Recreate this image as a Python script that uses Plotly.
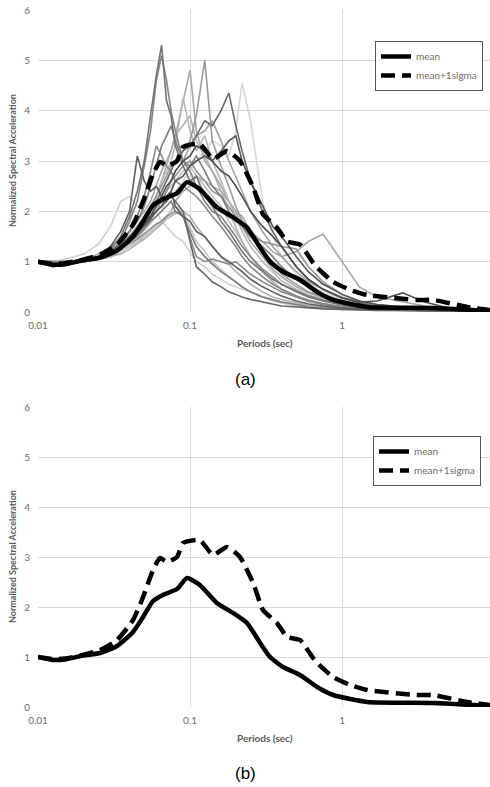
import plotly.graph_objects as go

# Period grid (sec) shared by the individual record spectra
periods = [0.01, 0.0125, 0.015, 0.02, 0.025, 0.03, 0.035, 0.04, 0.045, 0.05,
           0.055, 0.06, 0.065, 0.07, 0.075, 0.08, 0.09, 0.1, 0.11, 0.125,
           0.14, 0.16, 0.18, 0.2, 0.22, 0.25, 0.3, 0.35, 0.4, 0.5,
           0.6, 0.75, 1.0, 1.3, 1.7, 2.5, 3.5, 5.0, 10.0]

rec_A = [1.0,0.93,0.96,1.0,1.1,1.25,1.5,1.9,2.4,3.0,3.9,4.7,5.3,4.2,3.9,3.3,2.9,2.6,2.7,2.3,2.1,1.8,1.6,1.4,1.2,1.0,0.8,0.65,0.55,0.4,0.3,0.22,0.14,0.1,0.08,0.06,0.04,0.03,0.01]
rec_B = [1.0,0.9,0.95,1.0,1.05,1.2,1.4,1.8,2.2,2.9,3.6,4.6,5.1,4.6,4.0,3.6,3.0,2.8,2.5,2.2,2.0,1.9,1.7,1.5,1.3,1.1,0.85,0.7,0.55,0.42,0.32,0.24,0.15,0.1,0.08,0.06,0.04,0.03,0.01]
rec_C = [1.0,1.0,1.0,1.05,1.15,1.3,1.45,1.6,1.8,2.0,2.2,2.5,2.8,3.0,3.2,3.5,4.2,4.8,3.6,3.0,2.8,2.5,2.2,2.0,1.7,1.4,1.1,0.85,0.7,0.5,0.38,0.28,0.18,0.12,0.09,0.06,0.04,0.03,0.01]
rec_D = [1.0,0.98,1.0,1.03,1.1,1.2,1.35,1.5,1.7,1.9,2.1,2.3,2.5,2.7,2.9,3.0,3.2,3.4,3.9,5.0,3.4,2.9,2.5,2.1,1.8,1.5,1.2,0.95,0.75,0.55,0.4,0.3,0.2,0.13,0.1,0.07,0.05,0.03,0.01]
rec_E = [1.0,1.0,1.0,1.02,1.1,1.2,1.3,1.45,1.6,1.8,2.0,2.3,2.6,2.8,3.0,3.3,4.25,3.6,3.2,3.5,3.0,2.6,2.2,1.9,1.6,1.3,1.0,0.8,0.62,0.45,0.34,0.25,0.16,0.11,0.08,0.06,0.04,0.03,0.01]
rec_F = [1.0,0.95,0.98,1.0,1.08,1.2,1.35,1.5,1.65,1.8,2.0,2.2,2.4,2.6,2.8,3.0,3.2,3.3,3.5,3.8,3.7,4.0,4.35,3.7,3.2,2.6,2.0,1.6,1.3,0.9,0.65,0.45,0.28,0.18,0.12,0.08,0.05,0.03,0.01]
rec_G = [1.0,1.0,1.0,1.0,1.05,1.1,1.2,1.3,1.45,1.6,1.75,1.9,2.0,2.2,2.3,2.4,2.6,2.8,3.0,3.2,3.4,3.3,3.1,3.6,4.55,3.8,2.2,1.5,1.1,0.75,0.55,0.4,0.25,0.16,0.11,0.07,0.05,0.03,0.01]
rec_H = [1.0,0.92,0.95,1.0,1.1,1.3,1.6,2.0,3.1,2.6,2.4,2.5,2.3,2.2,2.4,2.1,1.9,1.8,1.6,1.5,1.3,1.1,1.0,0.9,0.8,0.65,0.5,0.4,0.32,0.22,0.16,0.12,0.08,0.06,0.05,0.04,0.03,0.02,0.01]
rec_I = [1.0,1.0,1.05,1.15,1.35,1.7,2.2,2.3,2.1,2.0,1.9,2.0,1.8,1.7,1.6,1.5,1.4,1.2,1.0,0.9,0.75,0.65,0.55,0.5,0.45,0.38,0.3,0.25,0.2,0.15,0.12,0.09,0.06,0.05,0.04,0.03,0.02,0.02,0.01]
rec_J = [1.0,1.0,1.0,1.0,1.05,1.1,1.2,1.3,1.4,1.5,1.6,1.7,1.8,1.9,2.0,2.2,2.4,2.5,2.7,2.6,2.5,2.4,2.2,2.0,1.9,1.6,1.4,1.2,1.1,1.2,1.4,1.55,1.0,0.5,0.3,0.2,0.12,0.07,0.02]
rec_K = [1.0,0.95,0.97,1.0,1.08,1.2,1.3,1.45,1.6,1.75,1.9,2.1,2.3,2.5,2.6,2.8,3.0,3.1,3.3,3.2,3.0,2.8,2.7,2.5,2.3,2.0,1.7,1.5,1.3,0.9,0.65,0.45,0.28,0.2,0.22,0.38,0.2,0.08,0.02]
rec_L = [1.0,0.95,0.98,1.0,1.05,1.15,1.25,1.4,1.5,1.65,1.8,1.9,2.0,2.1,2.2,2.0,1.9,1.6,1.3,1.1,0.95,0.8,0.7,0.6,0.5,0.4,0.3,0.25,0.2,0.15,0.1,0.08,0.06,0.05,0.04,0.03,0.02,0.02,0.01]
rec_M = [1.0,0.97,1.0,1.02,1.08,1.15,1.25,1.35,1.45,1.55,1.65,1.75,1.8,1.9,1.95,2.0,1.9,1.5,1.1,1.0,1.05,1.0,0.95,1.0,0.9,0.75,0.6,0.5,0.4,0.3,0.22,0.15,0.1,0.07,0.05,0.04,0.03,0.02,0.01]
rec_N = [1.0,0.9,0.93,1.0,1.05,1.15,1.3,1.45,1.6,1.75,1.9,2.0,2.1,2.2,2.3,2.2,2.0,1.4,0.9,0.75,0.6,0.5,0.4,0.35,0.3,0.25,0.2,0.15,0.12,0.1,0.08,0.06,0.05,0.04,0.03,0.03,0.02,0.02,0.01]
rec_O = [1.0,1.0,1.0,1.02,1.1,1.2,1.3,1.45,1.6,1.7,1.9,2.0,2.2,2.4,2.5,2.6,2.8,2.9,2.7,2.5,2.3,2.1,1.8,1.6,1.4,1.1,0.8,0.6,0.45,0.3,0.2,0.15,0.1,0.07,0.05,0.04,0.03,0.02,0.01]
rec_P = [1.0,0.95,0.97,1.0,1.1,1.2,1.4,1.6,1.8,2.1,2.5,2.9,3.3,3.5,3.7,3.4,3.0,2.9,3.1,2.8,2.5,2.3,2.0,1.8,1.7,1.5,1.3,1.1,0.9,0.65,0.5,0.35,0.22,0.15,0.1,0.07,0.05,0.03,0.01]
rec_Q = [1.0,1.0,1.0,1.03,1.1,1.2,1.3,1.4,1.55,1.7,1.85,2.0,2.2,2.4,2.6,2.8,3.0,3.3,3.5,3.6,3.8,3.4,3.0,2.7,2.4,2.0,1.6,1.3,1.1,0.8,0.6,0.45,0.3,0.2,0.14,0.09,0.06,0.04,0.01]
rec_R = [1.0,0.93,0.96,1.0,1.06,1.15,1.3,1.4,1.55,1.7,1.85,2.0,2.1,2.3,2.4,2.6,2.7,2.9,3.0,3.1,3.0,3.2,3.4,3.5,3.0,2.6,2.1,1.7,1.5,1.1,0.8,0.55,0.35,0.22,0.15,0.1,0.06,0.04,0.01]
rec_S = [1.0,1.0,1.0,1.02,1.05,1.1,1.2,1.3,1.4,1.5,1.6,1.7,1.8,1.9,2.0,2.1,2.0,1.7,1.4,1.2,1.0,0.85,0.7,0.6,0.5,0.4,0.3,0.22,0.18,0.12,0.09,0.07,0.05,0.04,0.03,0.03,0.02,0.02,0.01]
rec_T = [1.0,0.97,0.99,1.0,1.08,1.18,1.3,1.45,1.6,1.75,1.9,2.1,2.2,2.4,2.6,2.7,2.9,3.0,2.8,2.6,2.4,2.3,2.1,1.9,1.7,1.5,1.4,1.35,1.3,1.25,0.9,0.6,0.35,0.22,0.15,0.1,0.07,0.04,0.01]
rec_U = [1.0,1.0,1.0,1.03,1.1,1.2,1.35,1.5,1.7,1.9,2.1,2.3,2.6,2.9,3.2,3.5,3.7,3.9,3.4,3.1,2.8,2.4,2.0,1.7,1.4,1.1,0.8,0.6,0.45,0.32,0.22,0.16,0.1,0.07,0.05,0.04,0.03,0.02,0.01]
rec_V = [1.0,0.94,0.97,1.0,1.07,1.2,1.4,1.6,1.9,2.3,2.8,3.3,3.1,2.9,2.8,2.6,2.5,2.4,2.3,2.1,1.9,1.7,1.5,1.3,1.1,0.9,0.7,0.55,0.45,0.32,0.24,0.17,0.11,0.08,0.06,0.05,0.03,0.02,0.01]
rec_W = [1.0,0.98,1.0,1.0,1.04,1.1,1.15,1.25,1.35,1.45,1.55,1.65,1.75,1.85,1.9,1.95,2.0,1.9,1.7,1.5,1.3,1.1,0.95,0.8,0.7,0.55,0.4,0.3,0.25,0.18,0.13,0.1,0.07,0.05,0.04,0.03,0.02,0.02,0.01]

records = [rec_J, rec_G, rec_I, rec_S, rec_W, rec_O, rec_U, rec_C, rec_E, rec_Q, rec_D,
           rec_M, rec_T, rec_V, rec_P, rec_B, rec_L, rec_A, rec_F, rec_N, rec_H, rec_R, rec_K]
record_colors = ["#a8a8a8", "#d8d8d8", "#d0d0d0", "#c6c6c6", "#b0b0b0", "#bdbdbd", "#b3b3b3",
                 "#a8a8a8", "#b8b8b8", "#a0a0a0", "#9a9a9a", "#8c8c8c", "#939393", "#858585",
                 "#7d7d7d", "#858585", "#7a7a7a", "#727272", "#6a6a6a", "#666666", "#5e5e5e",
                 "#555555", "#4d4d4d"]

# Mean spectrum
mean_T = [0.01, 0.0125, 0.015, 0.0198, 0.0256, 0.0331, 0.0422, 0.0491, 0.0571, 0.0664,
          0.0821, 0.0956, 0.116, 0.15, 0.192, 0.237, 0.289, 0.336, 0.409, 0.529,
          0.685, 0.873, 1.46, 3.97, 9.4]
mean_V = [1.0, 0.94, 0.95, 1.03, 1.08, 1.22, 1.5, 1.8, 2.12, 2.24,
          2.36, 2.58, 2.44, 2.08, 1.88, 1.68, 1.28, 1.0, 0.8, 0.64,
          0.4, 0.24, 0.1, 0.08, 0.02]

# Mean + 1 sigma spectrum
sig_T = [0.01, 0.0125, 0.015, 0.0198, 0.0256, 0.0331, 0.0422, 0.0491, 0.0571, 0.0635,
         0.0706, 0.0821, 0.0899, 0.116, 0.1416, 0.175, 0.213, 0.26, 0.302, 0.373,
         0.435, 0.529, 0.644, 0.685, 0.873, 1.13, 1.46, 3.11, 3.97, 6.64, 9.4]
sig_V = [1.0, 0.96, 0.97, 1.04, 1.14, 1.34, 1.74, 2.2, 2.74, 2.98,
         2.9, 3.0, 3.28, 3.34, 3.04, 3.2, 3.0, 2.48, 1.94, 1.68,
         1.4, 1.34, 0.98, 0.88, 0.6, 0.44, 0.34, 0.24, 0.24, 0.1, 0.04]

x_tickvals = [0.01, 0.1, 1, 10]
x_ticktext = ["0.01", "0.1", "1", "10"]
y_tickvals = [0, 1, 2, 3, 4, 5, 6]

W, H = 490, 787
ML, MR, MT, MB = 38, 0, 10, 80
plot_h = H - MT - MB
top_dom = [(707 - 312) / plot_h, 1.0]
bot_dom = [0.0, (707 - 407) / plot_h]

fig = go.Figure()

for rec, col in zip(records, record_colors):
    fig.add_trace(go.Scatter(x=periods, y=rec, mode="lines", xaxis="x", yaxis="y",
                             line=dict(color=col, width=1.6), showlegend=False,
                             hoverinfo="skip"))

for ax, leg in (("", "legend"), ("2", "legend2")):
    fig.add_trace(go.Scatter(x=mean_T, y=mean_V, mode="lines", name="mean",
                             xaxis="x" + ax, yaxis="y" + ax, legend=leg,
                             line=dict(color="black", width=4.5, shape="spline", smoothing=0.5)))
    fig.add_trace(go.Scatter(x=sig_T, y=sig_V, mode="lines", name="mean+1sigma",
                             xaxis="x" + ax, yaxis="y" + ax, legend=leg,
                             line=dict(color="black", width=4.5, dash="14px,7px",
                                       shape="spline", smoothing=0.5)))

grid = "#d9d9d9"
tickfont = dict(family="Lato", size=10, color="#6b6b6b")
xcommon = dict(type="log", range=[-2, 0.973], tickvals=x_tickvals, ticktext=x_ticktext,
               showgrid=True, gridcolor=grid, gridwidth=1, showline=False, zeroline=False,
               ticks="", tickfont=tickfont, fixedrange=True, ticklabelstandoff=6)
ycommon = dict(range=[0, 6], tickvals=y_tickvals, showgrid=True, gridcolor=grid, gridwidth=1,
               showline=False, zeroline=False, ticks="", tickfont=tickfont, ticklabelstandoff=7)

legcommon = dict(xanchor="left", yanchor="top", bgcolor="white", bordercolor="#555555",
                 borderwidth=1, font=dict(family="Lato", size=10, color="#6b6b6b"),
                 itemwidth=30, tracegroupgap=2)

fig.update_layout(
    width=W, height=H, margin=dict(l=ML, r=MR, t=MT, b=MB),
    paper_bgcolor="white", plot_bgcolor="white",
    xaxis=dict(xcommon, anchor="y"),
    yaxis=dict(ycommon, domain=top_dom, anchor="x"),
    xaxis2=dict(xcommon, anchor="y2"),
    yaxis2=dict(ycommon, domain=bot_dom, anchor="x2"),
    legend=dict(legcommon, x=(375 - ML) / (W - ML), y=(707 - 41) / plot_h),
    legend2=dict(legcommon, x=(373 - ML) / (W - ML), y=(707 - 436) / plot_h),
)

def px_x(p):
    return (p - ML) / (W - ML)

def px_y(p):
    return (707 - p) / plot_h

annots = [
    dict(text="<b>Periods (sec)</b>", x=px_x(265), y=px_y(343)),
    dict(text="<b>Periods (sec)</b>", x=px_x(265), y=px_y(738)),
]
for a in annots:
    a.update(xref="paper", yref="paper", showarrow=False, xanchor="center", yanchor="middle",
             font=dict(family="Lato", size=10, color="#595959"))
    fig.add_annotation(**a)

for yc in (161, 557):
    fig.add_annotation(text="<b>Normalized Spectral Acceleration</b>", x=px_x(12), y=px_y(yc),
                       xref="paper", yref="paper", showarrow=False, textangle=-90,
                       xanchor="center", yanchor="middle",
                       font=dict(family="Lato", size=9, color="#595959"))

for txt, yc in (("(a)", 379), ("(b)", 773)):
    fig.add_annotation(text=txt, x=px_x(245), y=px_y(yc), xref="paper", yref="paper",
                       showarrow=False, xanchor="center", yanchor="middle",
                       font=dict(family="Liberation Sans", size=17, color="black"))

fig.write_html("out.html")
